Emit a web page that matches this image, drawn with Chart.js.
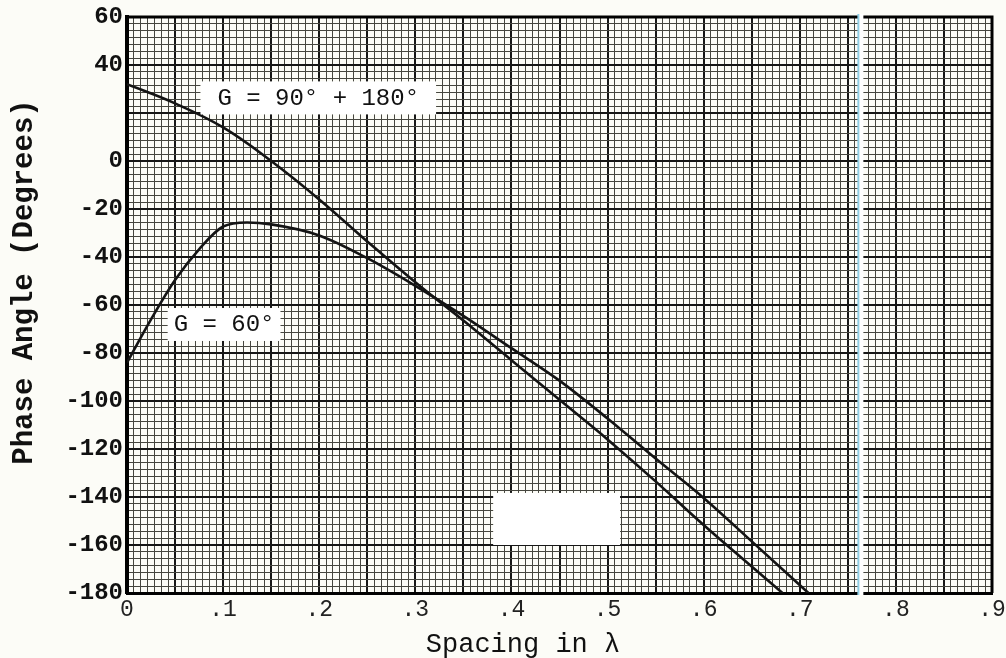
<!DOCTYPE html>
<html>
<head>
<meta charset="utf-8">
<script src="https://cdn.jsdelivr.net/npm/chart.js@4.4.1/dist/chart.umd.min.js"></script>
<style>
  html, body { margin: 0; padding: 0; background: #fcfcf7; }
  #wrap { width: 1006px; height: 658px; }
</style>
</head>
<body>
<div id="wrap"><canvas id="phaseChart" width="1006" height="658"></canvas></div>
<script>
// G = 90° + 180° curve
const spacing90 = [0, 0.05, 0.1, 0.15, 0.2, 0.25, 0.3, 0.35, 0.4, 0.45, 0.5, 0.55, 0.6, 0.65, 0.682];
const phase90   = [32, 24, 14, 0, -16, -33.5, -50.5, -66.5, -83, -99.5, -116, -133.5, -151.7, -169, -180];

// G = 60° curve
const spacing60 = [0, 0.025, 0.05, 0.075, 0.1, 0.125, 0.15, 0.2, 0.25, 0.3, 0.35, 0.4, 0.45, 0.5, 0.55, 0.6, 0.65, 0.709];
const phase60   = [-84, -66, -49.6, -36.8, -27.3, -25.6, -26.4, -31, -40.5, -52, -64.5, -78, -91.5, -107.3, -124, -140.4, -158.5, -180];

// tick labels as typed on the sheet (the 20 was never typed)
const xTickValues = [0, 0.1, 0.2, 0.3, 0.4, 0.5, 0.6, 0.7, 0.8, 0.9];
const xTickLabels = ['0', '.1', '.2', '.3', '.4', '.5', '.6', '.7', '.8', '.9'];
const yTickValues = [60, 40, 20, 0, -20, -40, -60, -80, -100, -120, -140, -160, -180];
const yTickLabels = ['60', '40', '', '0', '-20', '-40', '-60', '-80', '-100', '-120', '-140', '-160', '-180'];

const noteTexts = ['G = 90\u00b0 + 180\u00b0', 'G = 60\u00b0'];
const noteX = [0.199, 0.101];
const noteY = [26.5, -67.9];

const MONO = "'Liberation Mono', 'DejaVu Sans Mono', monospace";

function near(a, b) { return Math.abs(a - b) < 1e-6; }
function heavyX(v) { return near(v * 20, Math.round(v * 20)); }
function heavyY(v) { return near(v / 20, Math.round(v / 20)); }

const paperPlugin = {
  id: 'paper',
  beforeDraw(chart) {
    const c = chart.ctx;
    c.save();
    c.fillStyle = '#fcfcf7';
    c.fillRect(0, 0, chart.width, chart.height);
    c.restore();
  },
  afterDatasetsDraw(chart) {
    const c = chart.ctx;
    const xs = chart.scales.x, ys = chart.scales.y;
    const a = chart.chartArea;
    c.save();

    // blank patch pasted on the sheet
    const px0 = xs.getPixelForValue(0.381), px1 = xs.getPixelForValue(0.513);
    const py0 = ys.getPixelForValue(-138.3), py1 = ys.getPixelForValue(-160);
    c.fillStyle = '#ffffff';
    c.fillRect(px0, py0, px1 - px0, py1 - py0);

    // curve labels
    c.font = '24px ' + MONO;
    c.textAlign = 'center';
    c.textBaseline = 'middle';
    noteTexts.forEach((t, i) => {
      const cx = xs.getPixelForValue(noteX[i]);
      const cy = ys.getPixelForValue(noteY[i]);
      const w = c.measureText(t).width + (i === 0 ? 34 : 12);
      c.fillStyle = '#ffffff';
      c.fillRect(cx - w / 2, cy - 16, w, 33);
      c.fillStyle = '#111';
      c.fillText(t, cx, cy + 1);
    });

    // outer frame, top and right
    c.strokeStyle = '#000';
    c.lineWidth = 3;
    c.beginPath();
    c.moveTo(a.left, a.top);
    c.lineTo(a.right, a.top);
    c.lineTo(a.right, a.bottom);
    c.stroke();

    // paper seam
    const sx = xs.getPixelForValue(0.762);
    c.fillStyle = '#ffffff';
    c.fillRect(sx - 1, a.top - 3, 5, a.bottom - a.top + 5);
    c.fillStyle = '#8fcde3';
    c.fillRect(sx - 2, a.top - 3, 2, a.bottom - a.top + 5);

    // axis titles
    c.fillStyle = '#111';
    c.font = 'bold 29px ' + MONO;
    c.translate(a.left - 102, a.top + 265);
    c.rotate(-Math.PI / 2);
    c.fillText('Phase Angle (Degrees)', 0, 0);
    c.setTransform(1, 0, 0, 1, 0, 0);
    c.font = '27px ' + MONO;
    c.fillText('Spacing in \u03bb', a.left + 396, a.bottom + 52);
    c.restore();
  }
};

const ctx = document.getElementById('phaseChart').getContext('2d');

new Chart(ctx, {
  type: 'line',
  data: {
    datasets: [
      {
        label: 'G = 90° + 180°',
        data: spacing90.map((s, i) => ({ x: s, y: phase90[i] })),
        borderColor: '#141414',
        borderWidth: 2.6,
        pointRadius: 0,
        tension: 0.4
      },
      {
        label: 'G = 60°',
        data: spacing60.map((s, i) => ({ x: s, y: phase60[i] })),
        borderColor: '#141414',
        borderWidth: 2.6,
        pointRadius: 0,
        cubicInterpolationMode: 'monotone'
      }
    ]
  },
  options: {
    responsive: false,
    animation: false,
    devicePixelRatio: 1,
    layout: { padding: { top: 17, right: 14, left: 0, bottom: 0 } },
    plugins: {
      legend: { display: false },
      tooltip: { enabled: false }
    },
    scales: {
      x: {
        type: 'linear',
        min: 0,
        max: 0.9,
        afterBuildTicks: axis => {
          const t = [];
          for (let i = 0; i <= 126; i++) t.push({ value: i / 140 });
          axis.ticks = t;
        },
        afterFit: axis => {
          axis.height = 65;
          axis.paddingLeft = 0;
          axis.paddingRight = 0;
        },
        ticks: {
          autoSkip: false,
          maxRotation: 0,
          minRotation: 0,
          padding: 3,
          color: '#222',
          font: { family: MONO, size: 23 },
          callback: value => {
            const k = xTickValues.findIndex(v => near(v, value));
            return k >= 0 ? xTickLabels[k] : '';
          }
        },
        grid: {
          drawTicks: false,
          color: c => (c.tick && heavyX(c.tick.value)) ? '#161616' : '#46463f',
          lineWidth: c => (c.tick && heavyX(c.tick.value)) ? 2 : 1
        },
        border: { display: true, color: '#000', width: 3 }
      },
      y: {
        type: 'linear',
        min: -180,
        max: 60,
        afterBuildTicks: axis => {
          const t = [];
          for (let i = 0; i <= 84; i++) t.push({ value: -180 + i * 20 / 7 });
          axis.ticks = t;
        },
        afterFit: axis => {
          axis.width = 127;
          axis.paddingTop = 0;
          axis.paddingBottom = 0;
        },
        ticks: {
          autoSkip: false,
          padding: 4,
          color: '#111',
          font: { family: MONO, size: 24, weight: 'bold' },
          callback: value => {
            const k = yTickValues.findIndex(v => near(v, value));
            return k >= 0 ? yTickLabels[k] : '';
          }
        },
        grid: {
          drawTicks: false,
          color: c => (c.tick && heavyY(c.tick.value)) ? '#161616' : '#46463f',
          lineWidth: c => (c.tick && heavyY(c.tick.value)) ? 2 : 1
        },
        border: { display: true, color: '#000', width: 4 }
      }
    }
  },
  plugins: [paperPlugin]
});
</script>
</body>
</html>
